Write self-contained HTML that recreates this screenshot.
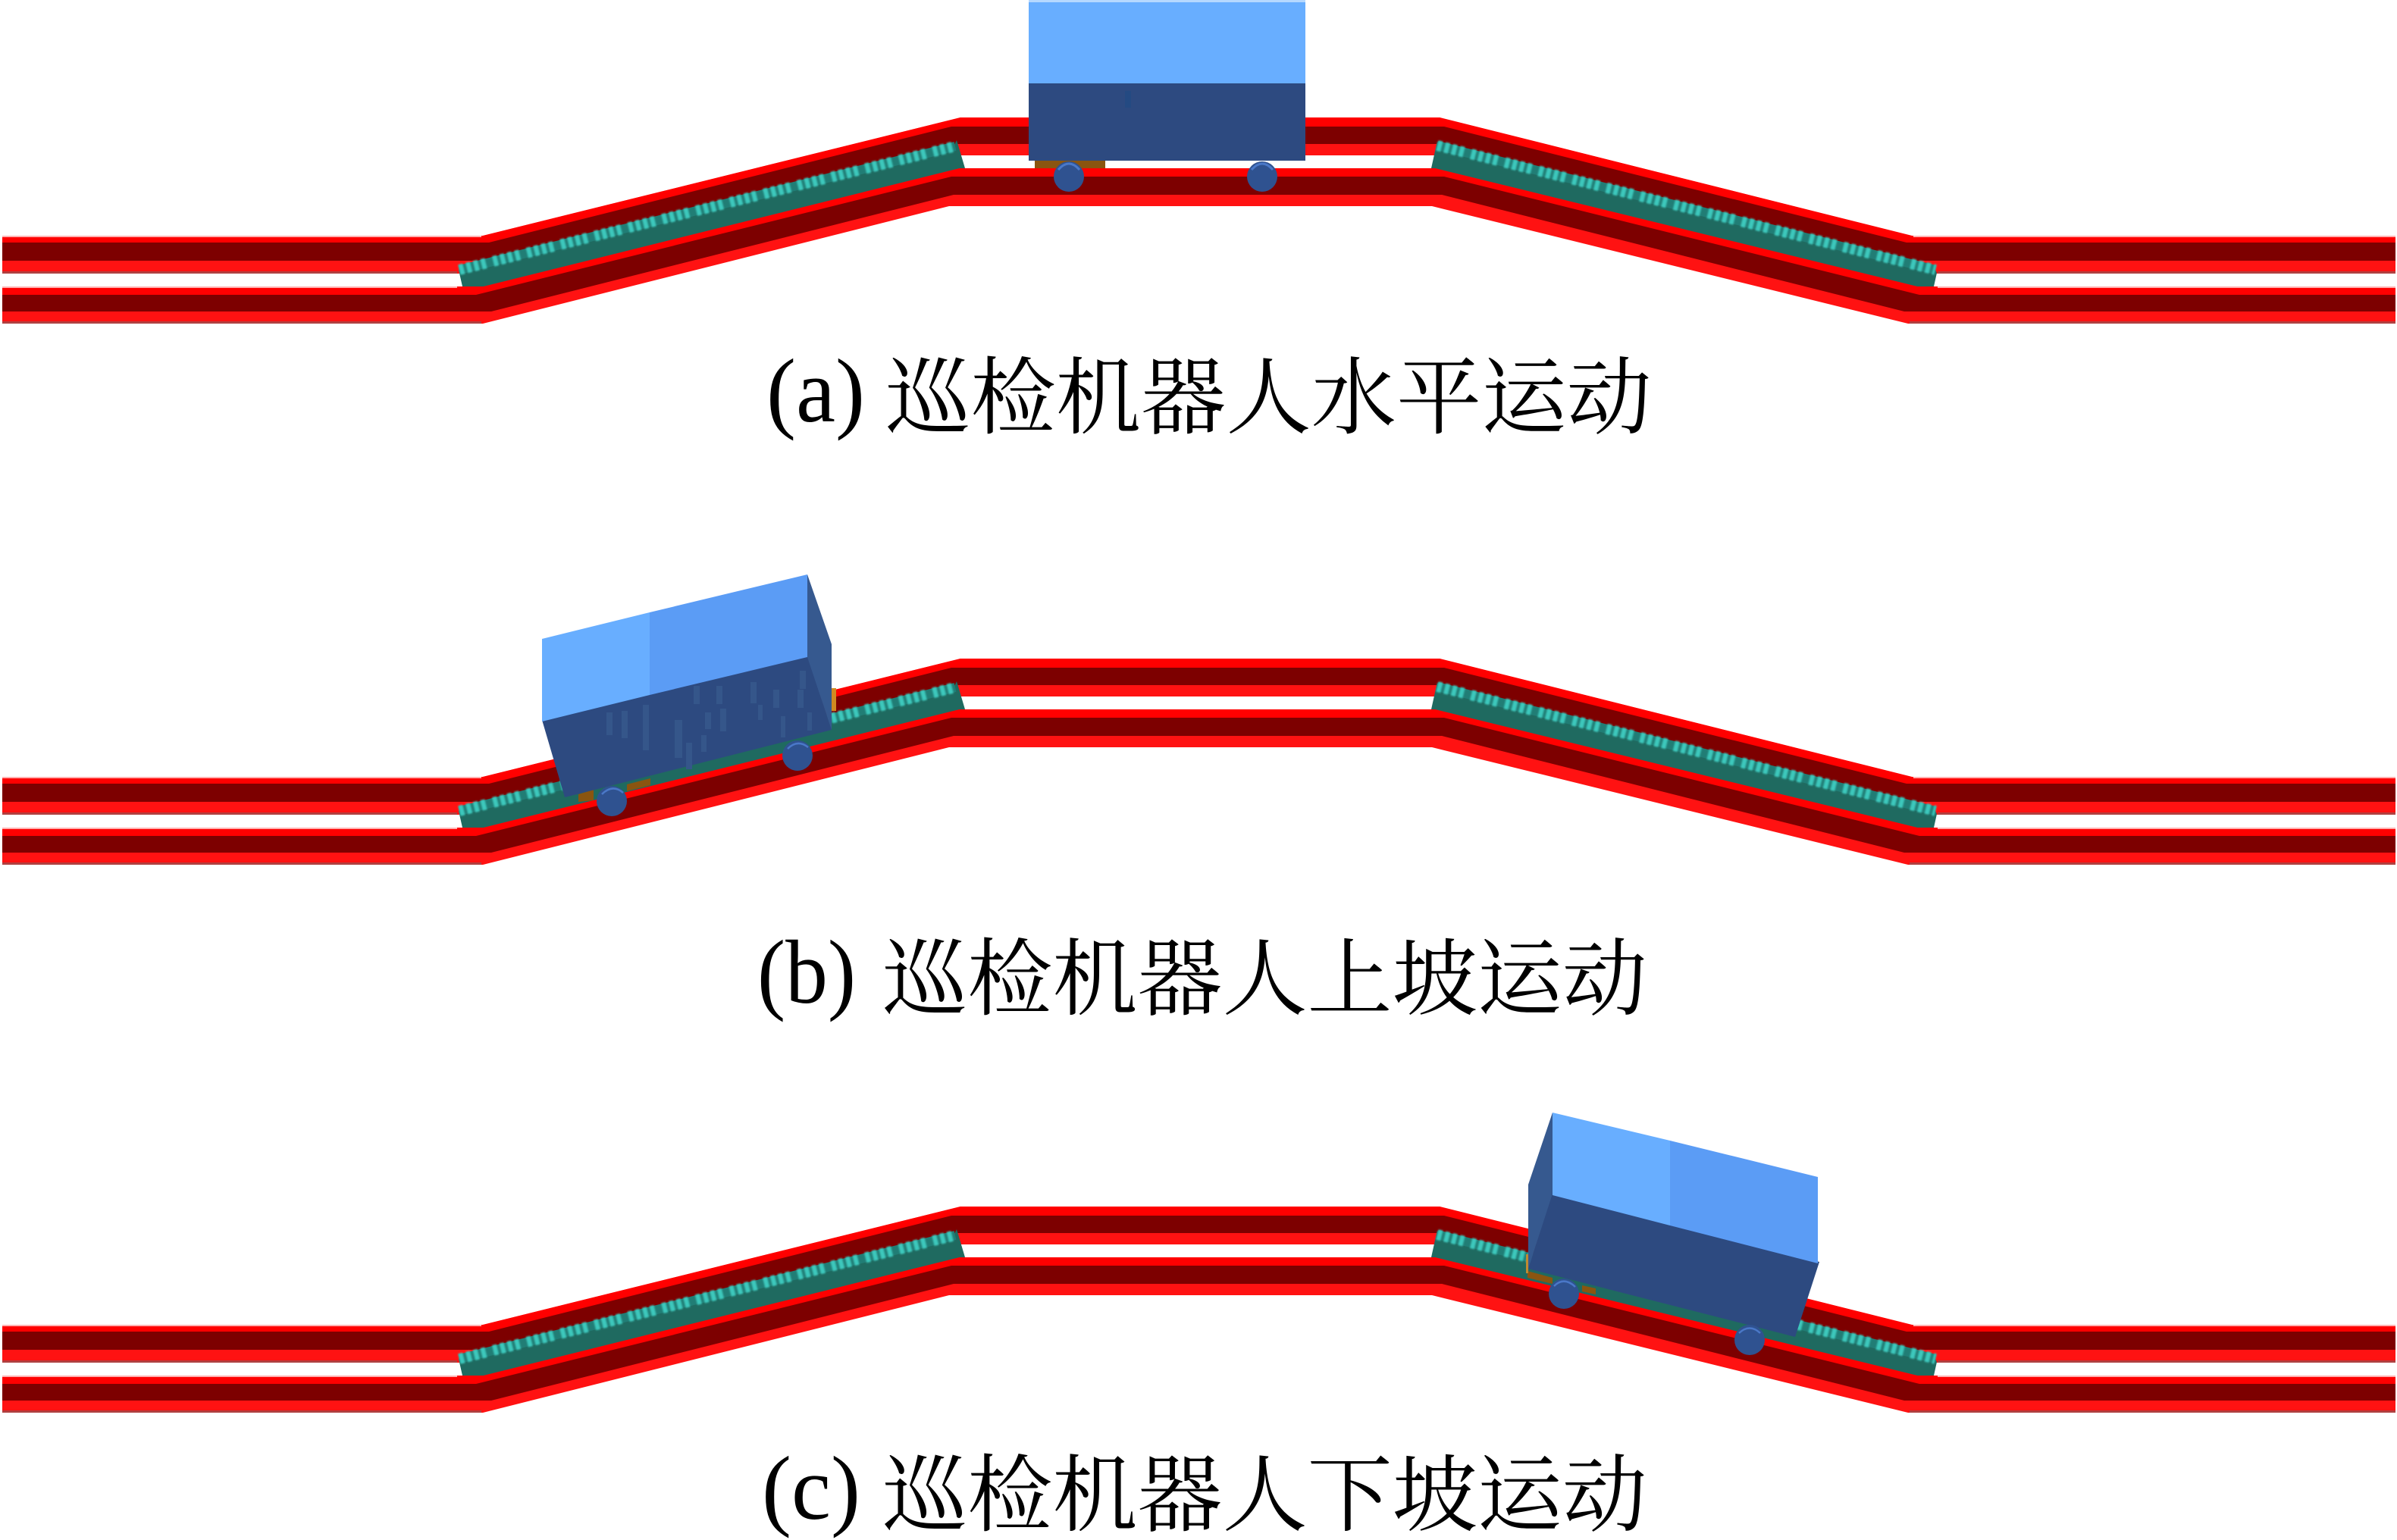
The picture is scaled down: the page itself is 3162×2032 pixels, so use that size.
<!DOCTYPE html>
<html lang="zh">
<head>
<meta charset="utf-8">
<title>巡检机器人运动</title>
<style>
html,body{margin:0;padding:0;background:#fff;}
svg{display:block;}
.la{font-family:"Liberation Serif",serif;font-size:120px;fill:#000;}
.cj{font-family:"Noto Serif CJK SC","Noto Sans CJK SC",serif;font-size:111px;fill:#000;}
</style>
</head>
<body>
<svg xmlns="http://www.w3.org/2000/svg" width="3162" height="2032" viewBox="0 0 3162 2032">
<defs>
<filter id="soft" x="-2%" y="-10%" width="104%" height="120%"><feGaussianBlur stdDeviation="1"/></filter>
<g id="track">
  <!-- upper rail -->
  <polygon points="3,311 637,311 1267,155 1899,155 2522,311 3160,311 3160,361 2518,361 1895,205 1265,205 640,361 3,361" fill="#ff1212"/>
  <polygon points="3,311 637,311 1267,155 1899,155 2522,311 3160,311 3160,322 2515,322 1905,169 1255,169 645,322 3,322" fill="#ff0000"/>
  <rect x="3" y="311" width="632" height="2" fill="#ffb0b0"/>
  <rect x="2524" y="311" width="636" height="2" fill="#ffb0b0"/>
  <rect x="3" y="358" width="600" height="3" fill="#b04040"/>
  <rect x="2556" y="358" width="604" height="3" fill="#b04040"/>
  <polygon points="3,320 645,320 1255,167 1905,167 2515,320 3160,320 3160,344 2520,344 1900,190 1260,190 640,344 3,344" fill="#7d0000"/>
  <!-- racks -->
  <polygon points="605,356 1258,193 1262,185 1273,222 1250,232 642,385 610,378" fill="#1f6a60"/>
  <polygon points="1896,186 1898,192 2553,356 2555,360 2551,378 2520,385 1899,232 1888,222" fill="#1f6a60"/>
  <line x1="606" y1="356" x2="1260" y2="193" stroke="#217d75" stroke-width="12"/>
  <line x1="1896" y1="192" x2="2553" y2="356" stroke="#217d75" stroke-width="12"/>
  <g filter="url(#soft)">
    <line x1="606" y1="356" x2="1260" y2="193" stroke="#3cc8bc" stroke-width="14" stroke-dasharray="6 4 6 4 6 4 6 10"/>
    <line x1="1896" y1="192" x2="2553" y2="356" stroke="#3cc8bc" stroke-width="14" stroke-dasharray="6 4 6 4 6 4 6 10"/>
  </g>
  <!-- lower rail -->
  <polygon points="3,378 638,378 1266,222 1893,222 2529,378 3160,378 3160,427 2517,427 1889,272 1252,272 637,427 3,427" fill="#ff1212"/>
  <polygon points="3,378 638,378 1266,222 1893,222 2529,378 3160,378 3160,391 2532,391 1905,235 1255,235 628,391 3,391" fill="#ff0000"/>
  <rect x="3" y="378" width="600" height="2" fill="#ffb0b0"/>
  <rect x="2556" y="378" width="604" height="2" fill="#ffb0b0"/>
  <rect x="3" y="424" width="632" height="3" fill="#b04040"/>
  <rect x="2519" y="424" width="641" height="3" fill="#b04040"/>
  <polygon points="3,389 628,389 1255,233 1905,233 2532,389 3160,389 3160,411 2512,411 1902,257 1258,257 648,411 3,411" fill="#7d0000"/>
</g>
</defs>

<use href="#track"/>
<use href="#track" y="714"/>
<use href="#track" y="1437"/>

<!-- Robot (a) -->
<rect x="1365" y="210" width="93" height="12" fill="#8a5510"/>
<rect x="1357" y="0" width="365" height="4" fill="#b5d8ff"/>
<rect x="1357" y="3" width="365" height="107" fill="#68aeff"/>
<rect x="1357" y="110" width="365" height="102" fill="#2d4a80"/>
<rect x="1484" y="120" width="8" height="22" fill="#244a82"/>
<circle cx="1410" cy="233" r="20" fill="#2f5290"/>
<circle cx="1665" cy="233" r="20" fill="#2f5290"/>
<path d="M1396 224 Q1410 208 1424 224" fill="none" stroke="#4a78c8" stroke-width="3"/>
<path d="M1651 224 Q1665 208 1679 224" fill="none" stroke="#4a78c8" stroke-width="3"/>

<!-- Robot (b) -->
<polygon points="763,1048 783,1042 783,1056 763,1058" fill="#8a5510"/>
<polygon points="827,1035 858,1027 858,1036 827,1044" fill="#8a5510"/>
<rect x="1097" y="908" width="6" height="30" fill="#d08a20"/>
<polygon points="715,950 1065,865 1097,963 745,1052" fill="#2d4a80"/>
<polygon points="1065,758 1097,850 1097,963 1065,867" fill="#36598f"/>
<polygon points="715,843 857,808 857,917 715,952" fill="#68aeff"/>
<polygon points="857,808 1065,758 1065,867 857,917" fill="#5b9cf5"/>
<g fill="#35568a">
<rect x="800" y="940" width="8" height="30"/><rect x="820" y="938" width="8" height="36"/>
<rect x="848" y="930" width="8" height="60"/><rect x="890" y="950" width="10" height="50"/>
<rect x="905" y="980" width="8" height="35"/><rect x="915" y="905" width="8" height="24"/>
<rect x="930" y="940" width="8" height="22"/><rect x="925" y="970" width="7" height="22"/>
<rect x="945" y="905" width="8" height="24"/><rect x="950" y="935" width="8" height="30"/>
<rect x="990" y="900" width="8" height="28"/><rect x="1020" y="910" width="8" height="24"/>
<rect x="1000" y="930" width="6" height="20"/><rect x="1030" y="945" width="6" height="28"/>
<rect x="1055" y="885" width="8" height="24"/><rect x="1052" y="910" width="8" height="24"/>
<rect x="1065" y="940" width="6" height="24"/>
</g>
<circle cx="807" cy="1057" r="20" fill="#2f5290"/>
<circle cx="1052" cy="997" r="20" fill="#2f5290"/>
<path d="M794 1048 Q808 1034 822 1046" fill="none" stroke="#4a78c8" stroke-width="2.5"/>
<path d="M1039 988 Q1052 975 1066 986" fill="none" stroke="#4a78c8" stroke-width="2.5"/>

<!-- Robot (c) -->
<polygon points="2015,1677 2048,1686 2048,1694 2015,1686" fill="#8a5510"/>
<polygon points="2087,1696 2105,1700 2105,1708 2087,1704" fill="#8a5510"/>
<rect x="2013" y="1655" width="3" height="25" fill="#c08a30"/>
<polygon points="2048,1468 2016,1563 2016,1674 2048,1577" fill="#36598f"/>
<polygon points="2048,1575 2400,1665 2368,1764 2016,1674" fill="#2d4a80"/>
<polygon points="2048,1468 2203,1505 2203,1617 2048,1577" fill="#68aeff"/>
<polygon points="2203,1505 2398,1553 2398,1667 2203,1617" fill="#5b9cf5"/>
<circle cx="2063" cy="1707" r="20" fill="#2f5290"/>
<circle cx="2308" cy="1768" r="20" fill="#2f5290"/>
<path d="M2050 1697 Q2063 1684 2078 1698" fill="none" stroke="#4a78c8" stroke-width="2.5"/>
<path d="M2294 1759 Q2308 1746 2322 1759" fill="none" stroke="#4a78c8" stroke-width="2.5"/>

<!-- Captions -->
<text class="la" x="1011" y="556" textLength="130" lengthAdjust="spacingAndGlyphs">(a)</text>
<text class="cj" x="1168" y="563" textLength="1011" lengthAdjust="spacingAndGlyphs">巡检机器人水平运动</text>
<text class="la" x="999" y="1323" textLength="130" lengthAdjust="spacingAndGlyphs">(b)</text>
<text class="cj" x="1164" y="1330" textLength="1009" lengthAdjust="spacingAndGlyphs">巡检机器人上坡运动</text>
<text class="la" x="1005" y="2004" textLength="130" lengthAdjust="spacingAndGlyphs">(c)</text>
<text class="cj" x="1164" y="2011" textLength="1009" lengthAdjust="spacingAndGlyphs">巡检机器人下坡运动</text>
</svg>
</body>
</html>
